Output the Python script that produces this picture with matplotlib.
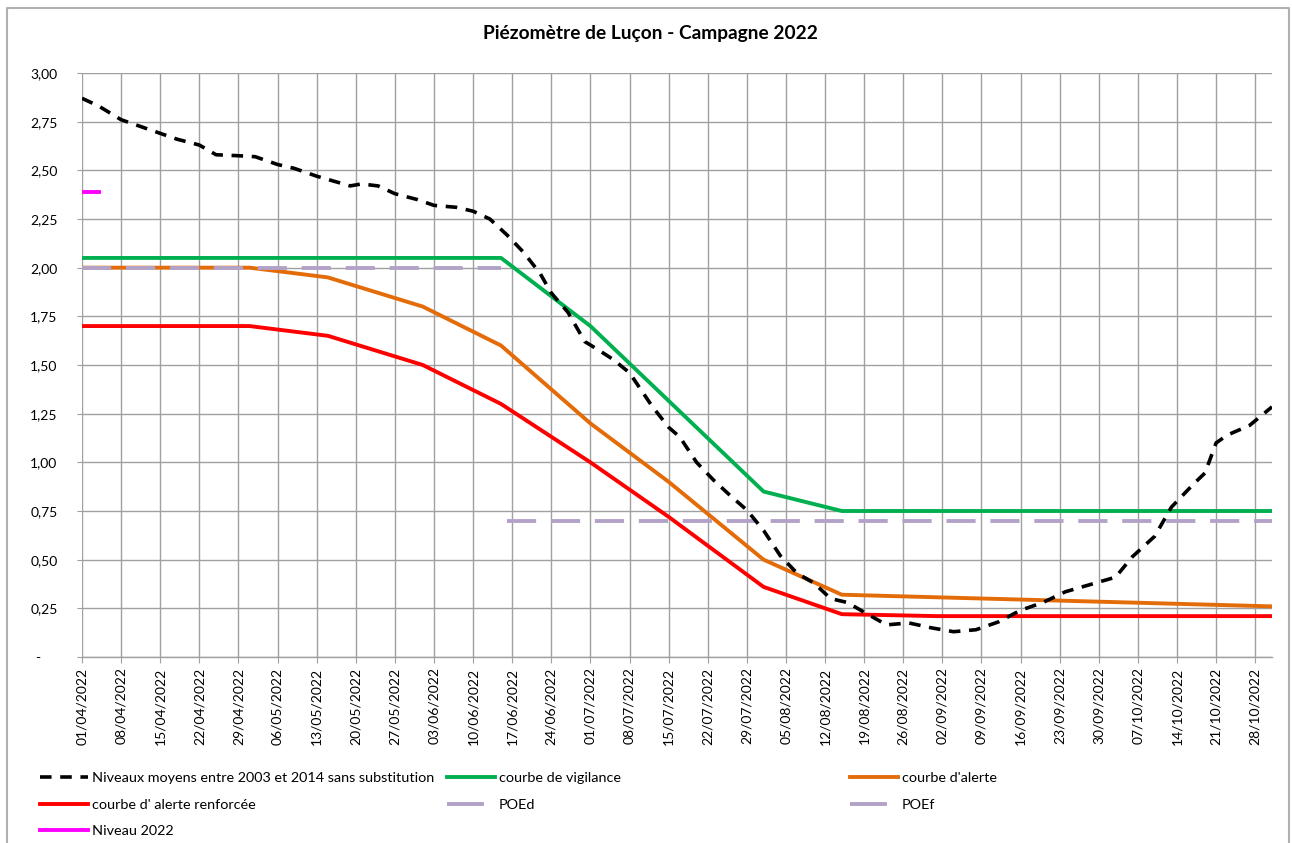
import numpy as np
import pandas as pd
import matplotlib
matplotlib.use("Agg")
from matplotlib import pyplot as plt
from matplotlib.ticker import FuncFormatter, MultipleLocator
from matplotlib.lines import Line2D

plt.rcParams['font.family'] = ['Lato', 'DejaVu Sans']

debut = pd.Timestamp('2022-04-01')
fin = pd.Timestamp('2022-10-31')

# niveaux moyens 2003-2014 (jours depuis le 01/04)
moy_jours = [0, 3, 7, 10, 14, 17, 21, 24, 28, 31, 35, 38, 42, 45, 48, 50, 53, 56,
             60, 63, 67, 70, 73, 76, 79, 82, 84, 87, 90, 92, 95, 98, 102, 105, 107,
             110, 113, 116, 119, 122, 125, 128, 131, 134, 137, 140, 144, 148, 152,
             156, 160, 164, 168, 172, 176, 182, 185, 188, 192, 195, 199, 201, 203,
             205, 209, 213]
moy_niv = [2.87, 2.83, 2.76, 2.73, 2.69, 2.66, 2.63, 2.58, 2.575, 2.57, 2.53, 2.51,
           2.47, 2.445, 2.42, 2.43, 2.42, 2.38, 2.35, 2.32, 2.31, 2.29, 2.25, 2.17,
           2.08, 1.97, 1.87, 1.77, 1.62, 1.585, 1.53, 1.46, 1.29, 1.18, 1.13, 1.00,
           0.91, 0.83, 0.755, 0.65, 0.52, 0.43, 0.38, 0.30, 0.28, 0.23, 0.165, 0.175,
           0.15, 0.13, 0.14, 0.18, 0.24, 0.28, 0.335, 0.385, 0.41, 0.515, 0.62, 0.77,
           0.89, 0.945, 1.10, 1.14, 1.19, 1.285]

vig_dates = ['2022-04-01', '2022-06-15', '2022-07-01', '2022-08-01', '2022-08-15', '2022-10-31']
vig_niv = [2.05, 2.05, 1.70, 0.85, 0.75, 0.75]

alerte_dates = ['2022-04-01', '2022-05-01', '2022-05-15', '2022-06-01', '2022-06-15',
                '2022-07-01', '2022-07-15', '2022-08-01', '2022-08-15', '2022-10-31']
alerte_niv = [2.00, 2.00, 1.95, 1.80, 1.60, 1.20, 0.90, 0.50, 0.32, 0.26]

renf_dates = ['2022-04-01', '2022-05-01', '2022-05-15', '2022-06-01', '2022-06-15',
              '2022-07-01', '2022-07-15', '2022-08-01', '2022-08-15', '2022-09-01', '2022-10-31']
renf_niv = [1.70, 1.70, 1.65, 1.50, 1.30, 1.00, 0.72, 0.36, 0.22, 0.21, 0.21]

poed_dates = ['2022-04-01', '2022-06-15']
poed_niv = [2.00, 2.00]
poef_dates = ['2022-06-16', '2022-10-31']
poef_niv = [0.70, 0.70]

niv2022_dates = ['2022-04-01', '2022-04-02', '2022-04-03', '2022-04-04']
niv2022_niv = [2.39, 2.39, 2.39, 2.39]

moy_dates = debut + pd.to_timedelta(moy_jours, unit='D')

fig = plt.figure(figsize=(12.92, 8.43), dpi=100)
ax = fig.add_axes([82 / 1292, 1 - 657 / 843, (1272 - 82) / 1292, (657 - 73) / 843])

gris = '#a0a0a0'
lavande = '#b3a2c7'

l_vig, = ax.plot(pd.to_datetime(vig_dates), vig_niv, color='#00b050', lw=2.8, label='courbe de vigilance')
l_al, = ax.plot(pd.to_datetime(alerte_dates), alerte_niv, color='#e36c09', lw=2.8, label="courbe d'alerte")
l_renf, = ax.plot(pd.to_datetime(renf_dates), renf_niv, color='#ff0000', lw=2.8, label="courbe d' alerte renforcée")
ax.plot(pd.to_datetime(poed_dates), poed_niv, color=lavande, lw=2.8, dashes=(7.5, 3.8))
ax.plot(pd.to_datetime(poef_dates), poef_niv, color=lavande, lw=2.8, dashes=(7.5, 3.8))
l_moy, = ax.plot(moy_dates, moy_niv, color='black', lw=2.6, dashes=(3.2, 2.4),
                 label='Niveaux moyens entre 2003 et 2014 sans substitution')
l_2022, = ax.plot(pd.to_datetime(niv2022_dates), niv2022_niv, color='#ff00ff', lw=2.8, label='Niveau 2022')

# poignées de légende pour les POE (un seul long tiret)
l_poed = Line2D([], [], color=lavande, lw=2.8, dashes=(9.5, 6), label='POEd')
l_poef = Line2D([], [], color=lavande, lw=2.8, dashes=(9.5, 6), label='POEf')

ax.set_xlim(debut, fin)
ax.set_ylim(0, 3)
ax.xaxis.set_major_locator(matplotlib.ticker.FixedLocator(
    matplotlib.dates.date2num(pd.date_range('2022-04-01', '2022-10-28', freq='7D'))))
ax.xaxis.set_major_formatter(matplotlib.dates.DateFormatter('%d/%m/%Y'))
ax.yaxis.set_major_locator(MultipleLocator(0.25))
ax.yaxis.set_major_formatter(FuncFormatter(
    lambda v, p: '-\u2007\u2007' if abs(v) < 1e-9 else f'{v:.2f}'.replace('.', ',')))

ax.grid(True, color=gris, lw=1.0)
ax.set_axisbelow(True)
for s in ['top', 'right', 'left']:
    ax.spines[s].set_visible(False)
ax.spines['bottom'].set_color(gris)
ax.spines['bottom'].set_linewidth(1.0)
ax.tick_params(axis='x', rotation=90, labelsize=10, length=4.5, color=gris, pad=3)
ax.tick_params(axis='y', labelsize=10, length=3.6, color=gris, pad=14)

fig.text(650 / 1292, 1 - 33 / 843, 'Piézomètre de Luçon - Campagne 2022',
         ha='center', va='center', fontsize=13.8, fontweight='bold')

# cadre du graphique
fig.add_artist(Line2D([7 / 1292, 7 / 1292, 1289 / 1292, 1289 / 1292],
                      [0, 1 - 8 / 843, 1 - 8 / 843, 0], color='#b0b0b0', lw=1.5,
                      transform=fig.transFigure))

colonnes = [([l_moy, l_renf, l_2022], 40),
            ([l_vig, l_poed], 447),
            ([l_al, l_poef], 850)]
for handles, x in colonnes:
    fig.legend(handles=handles, loc='upper left', bbox_to_anchor=(x / 1292, 1 - 772 / 843),
               frameon=False, fontsize=10.4, handlelength=3.3, handletextpad=0.3,
               labelspacing=1.0, borderpad=0, borderaxespad=0)

fig.savefig('out.png', dpi=100)
